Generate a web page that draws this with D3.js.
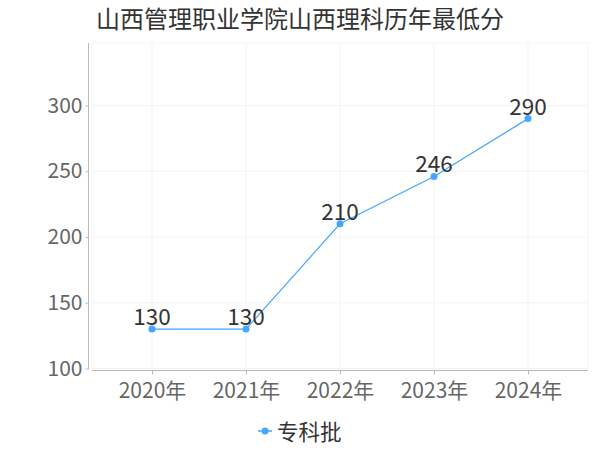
<!DOCTYPE html>
<html><head><meta charset="utf-8">
<script src="https://cdn.jsdelivr.net/npm/d3@7"></script>
<style>body{margin:0;background:#fff}svg{display:block}</style>
</head><body><svg id="c" width="600" height="450"></svg>
<script>
const title = "山西管理职业学院山西理科历年最低分";
const categories = ["2020年","2021年","2022年","2023年","2024年"];
const seriesName = "专科批";
const values = [130,130,210,246,290];
const yTicks = [100,150,200,250,300];

const FONT = "'Noto Sans CJK SC','Noto Sans',sans-serif";
const svg = d3.select("#c");
const color = "#45a5ff";

const x = d3.scalePoint().domain(categories).range([152,528]);
const y = d3.scaleLinear().domain([100,347.5]).range([368.5,43]);

// grid
const grid = svg.append("g");
grid.selectAll("line.h").data(yTicks.concat([347.5])).enter().append("line")
  .attr("x1",92).attr("x2",588).attr("y1",d=>y(d)).attr("y2",d=>y(d))
  .attr("stroke","#f3f3f3").attr("stroke-width",1);
grid.selectAll("line.v").data(categories).enter().append("line")
  .attr("x1",d=>x(d)).attr("x2",d=>x(d)).attr("y1",43).attr("y2",370)
  .attr("stroke","#f3f3f3").attr("stroke-width",1);
grid.append("line").attr("x1",588).attr("x2",588).attr("y1",43).attr("y2",370)
  .attr("stroke","#f3f3f3");
grid.append("line").attr("x1",92).attr("x2",92).attr("y1",43).attr("y2",370)
  .attr("stroke","#f3f3f3");

// y axis
const yAxis = svg.append("g").attr("transform","translate(88.5,0)")
  .call(d3.axisLeft(y).tickValues(yTicks).tickSize(3).tickPadding(3).tickFormat(d3.format("d")));
yAxis.select(".domain").attr("stroke","#bbb").attr("d","M0,43V369");
yAxis.selectAll(".tick line").attr("stroke","#bbb");
yAxis.selectAll("text").attr("font-family",FONT).attr("font-size",21).attr("fill","#666");

// x axis
const xAxis = svg.append("g").attr("transform","translate(0,370.5)")
  .call(d3.axisBottom(x).tickSize(4).tickPadding(9));
xAxis.select(".domain").attr("stroke","#bbb").attr("d","M92,0H588");
xAxis.selectAll(".tick line").attr("stroke","#bbb");
xAxis.selectAll("text").attr("font-family",FONT).attr("font-size",21).attr("fill","#666");

// line
svg.append("path").datum(values)
  .attr("d", d3.line().x((d,i)=>x(categories[i])).y(d=>y(d)))
  .attr("fill","none").attr("stroke",color).attr("stroke-width",1.2);
svg.selectAll("circle.p").data(values).enter().append("circle")
  .attr("cx",(d,i)=>x(categories[i])).attr("cy",d=>y(d)).attr("r",3.5).attr("fill",color);
svg.selectAll("text.lbl").data(values).enter().append("text")
  .attr("x",(d,i)=>x(categories[i])).attr("y",d=>y(d)-4)
  .attr("text-anchor","middle").attr("font-family",FONT).attr("font-size",22.5).attr("fill","#333")
  .text(d=>d);

// title
svg.append("text").attr("x",96).attr("y",28).attr("font-family",FONT).attr("font-size",24)
  .attr("fill","#333").text(title);

// legend
const lg = svg.append("g");
lg.append("line").attr("x1",258).attr("x2",272).attr("y1",431).attr("y2",431).attr("stroke",color).attr("stroke-width",1.5);
lg.append("circle").attr("cx",265).attr("cy",431).attr("r",3.5).attr("fill",color);
lg.append("text").attr("x",277).attr("y",440).attr("font-family",FONT).attr("font-size",21.5).attr("fill","#333").text(seriesName);
</script></body></html>
